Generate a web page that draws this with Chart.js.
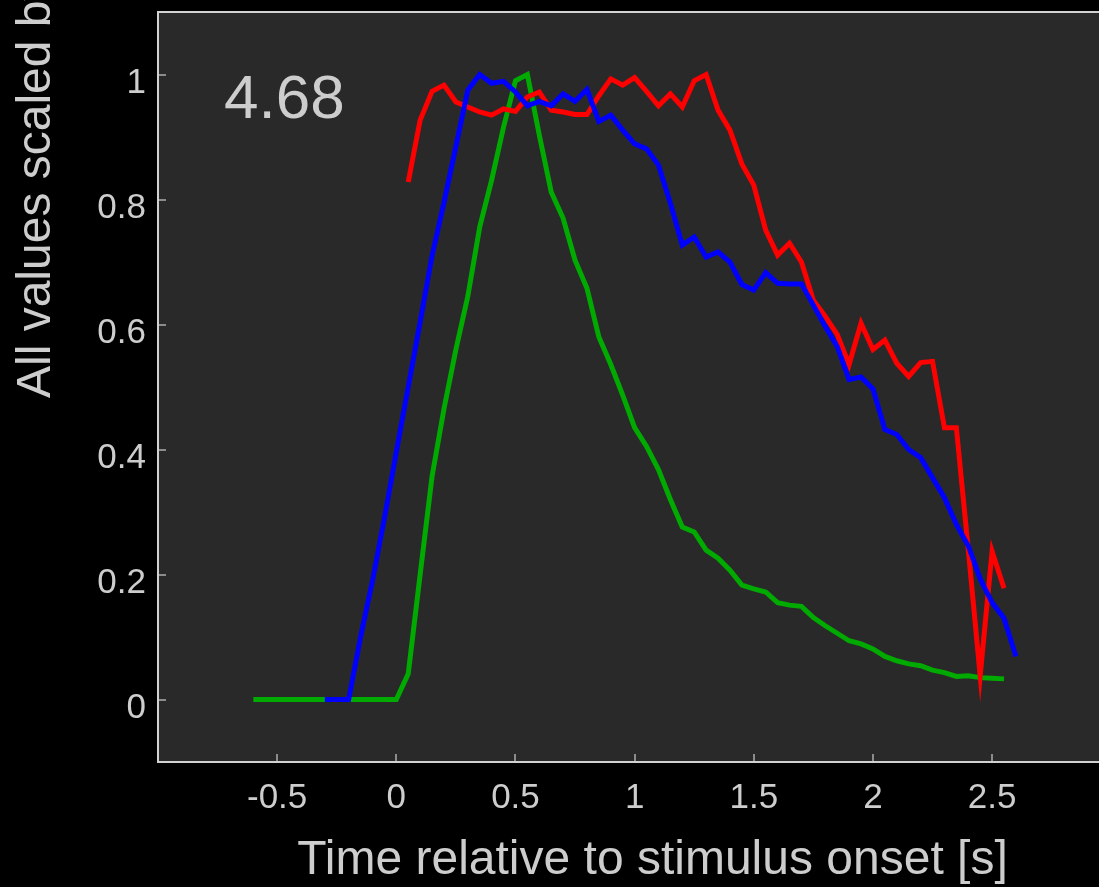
<!DOCTYPE html>
<html>
<head>
<meta charset="utf-8">
<script src="https://cdn.jsdelivr.net/npm/chart.js@4.4.1/dist/chart.umd.min.js"></script>
<style>
  html, body { margin: 0; padding: 0; background: #000; overflow: hidden; width: 1099px; height: 887px; }
  #wrap { position: absolute; left: 0; top: 0; width: 1160px; height: 887px; }
</style>
</head>
<body>
<div id="wrap"><canvas id="c" width="1160" height="887"></canvas></div>
<script>
// ---- data ----
const timeS = [-0.6,-0.55,-0.5,-0.45,-0.4,-0.35,-0.3,-0.25,-0.2,-0.15,-0.1,-0.05,0,0.05,0.1,0.15,0.2,0.25,0.3,0.35,0.4,0.45,0.5,0.55,0.6,0.65,0.7,0.75,0.8,0.85,0.9,0.95,1,1.05,1.1,1.15,1.2,1.25,1.3,1.35,1.4,1.45,1.5,1.55,1.6,1.65,1.7,1.75,1.8,1.85,1.9,1.95,2,2.05,2.1,2.15,2.2,2.25,2.3,2.35,2.4,2.45,2.5,2.55,2.6];

const greenVals = [0,0,0,0,0,0,0,0,0,0,0,0,0,
  0.041,0.2,0.357,0.465,0.56,0.645,0.756,0.831,0.916,0.99,
  1.0,0.903,0.812,0.77,0.703,0.658,0.58,0.536,0.487,0.435,
  0.405,0.368,0.32,0.276,0.268,0.239,0.226,0.207,0.183,0.177,
  0.172,0.155,0.151,0.149,0.131,0.118,0.106,0.094,0.089,0.081,
  0.069,0.062,0.057,0.054,0.047,0.043,0.037,0.038,0.035,0.034,
  0.033,null];

const blueVals = [null,null,null,null,null,null,
  0,0,0,0.10,0.19,0.29,0.396,
  0.5,0.604,0.71,0.795,0.885,0.975,1.0,0.986,0.989,0.972,
  0.95,0.957,0.95,0.969,0.957,0.976,0.925,0.935,0.911,0.889,
  0.881,0.855,0.794,0.727,0.74,0.708,0.716,0.70,0.664,0.655,
  0.683,0.666,0.665,0.665,0.631,0.597,0.565,0.512,0.516,0.497,
  0.432,0.424,0.40,0.387,0.355,0.323,0.28,0.246,0.193,0.155,
  0.13,0.069];

const redVals = [null,null,null,null,null,null,null,null,null,null,null,null,null,
  0.828,0.927,0.973,0.983,0.956,0.948,0.94,0.935,0.945,0.941,
  0.964,0.972,0.943,0.94,0.936,0.936,0.966,0.993,0.983,0.995,
  0.973,0.95,0.969,0.948,0.99,1.0,0.943,0.911,0.857,0.823,
  0.751,0.711,0.73,0.70,0.639,0.613,0.584,0.536,0.602,0.56,
  0.575,0.538,0.517,0.539,0.541,0.435,0.435,0.24,0.038,0.237,
  0.178,null];

const xTickValues = [-0.5,0,0.5,1,1.5,2,2.5];
const yTickValues = [0,0.2,0.4,0.6,0.8,1];
const annotationText = '4.68';
const xTitle = 'Time relative to stimulus onset [s]';
const yTitle = 'All values scaled by max';

// ---- styling ----
const FONT = '"Liberation Sans", Arial, Helvetica, sans-serif';
const TEXT = '#cdcdcd';
const AXIS = '#d2d2d2';
const TICK = '#8c8c8c';

const toPts = vals => timeS.map((t, i) => ({x: t, y: vals[i]}));

const noPad = s => { s.paddingTop = 0; s.paddingBottom = 0; s.paddingLeft = 0; s.paddingRight = 0; };

const plotBg = {
  id: 'plotBg',
  beforeDraw(chart) {
    const {ctx, chartArea: a} = chart;
    ctx.save();
    ctx.fillStyle = '#000';
    ctx.fillRect(0, 0, chart.width, chart.height);
    ctx.fillStyle = '#292929';
    ctx.fillRect(a.left, a.top, a.right - a.left, a.bottom - a.top);
    ctx.restore();
  },
  beforeDatasetsDraw(chart) {
    chart.ctx.miterLimit = 30;
  },
  afterDraw(chart) {
    const {ctx, chartArea: a} = chart;
    ctx.save();
    // y-axis title
    ctx.translate(50, 398);
    ctx.rotate(-Math.PI / 2);
    ctx.font = '48px ' + FONT;
    ctx.fillStyle = TEXT;
    ctx.textAlign = 'left';
    ctx.textBaseline = 'alphabetic';
    ctx.fillText(yTitle, 0, 0);
    ctx.restore();
    // annotation
    ctx.save();
    ctx.font = '62px ' + FONT;
    ctx.fillStyle = TEXT;
    ctx.textAlign = 'left';
    ctx.textBaseline = 'alphabetic';
    ctx.fillText(annotationText, a.left + 66, a.top + 106);
    ctx.restore();
  }
};

new Chart(document.getElementById('c'), {
  type: 'line',
  data: {
    datasets: [
      {label: 'blue', data: toPts(blueVals), borderColor: '#0000ff', order: 1},
      {label: 'red', data: toPts(redVals), borderColor: '#ff0000', order: 2},
      {label: 'green', data: toPts(greenVals), borderColor: '#00aa00', order: 3}
    ]
  },
  options: {
    responsive: false,
    animation: false,
    devicePixelRatio: 1,
    layout: {padding: {left: 0, top: 12, right: 13, bottom: 0}},
    elements: {
      line: {borderWidth: 5, tension: 0, fill: false},
      point: {radius: 0, hoverRadius: 0}
    },
    plugins: {legend: {display: false}, tooltip: {enabled: false}},
    scales: {
      x: {
        type: 'linear',
        position: 'bottom',
        min: -1,
        max: 3.15,
        afterBuildTicks: s => { s.ticks = xTickValues.map(v => ({value: v})); },
        afterFit: s => { s.height = 125; noPad(s); },
        ticks: {
          color: TEXT,
          font: {family: FONT, size: 35},
          padding: 23,
          maxRotation: 0,
          autoSkip: false,
          callback: v => String(v)
        },
        grid: {display: true, drawOnChartArea: false, drawTicks: true, tickLength: -8, color: TICK, lineWidth: 2},
        border: {display: true, color: AXIS, width: 2},
        title: {display: true, text: xTitle, color: TEXT, font: {family: FONT, size: 48, lineHeight: 1}, padding: {top: 0, bottom: 2}}
      },
      x2: {
        type: 'linear',
        position: 'top',
        min: -1,
        max: 3.15,
        afterFit: s => { s.height = 0; noPad(s); },
        ticks: {display: false},
        grid: {display: false},
        border: {display: true, color: AXIS, width: 2}
      },
      y: {
        type: 'linear',
        position: 'left',
        min: -0.1,
        max: 1.1,
        afterBuildTicks: s => { s.ticks = yTickValues.map(v => ({value: v})); },
        afterFit: s => { s.width = 158; noPad(s); },
        ticks: {
          color: TEXT,
          font: {family: FONT, size: 35},
          padding: 20,
          labelOffset: 9,
          autoSkip: false,
          callback: v => String(v)
        },
        grid: {display: true, drawOnChartArea: false, drawTicks: true, tickLength: -8, color: TICK, lineWidth: 2},
        border: {display: true, color: AXIS, width: 2}
      }
    }
  },
  plugins: [plotBg]
});
</script>
</body>
</html>
